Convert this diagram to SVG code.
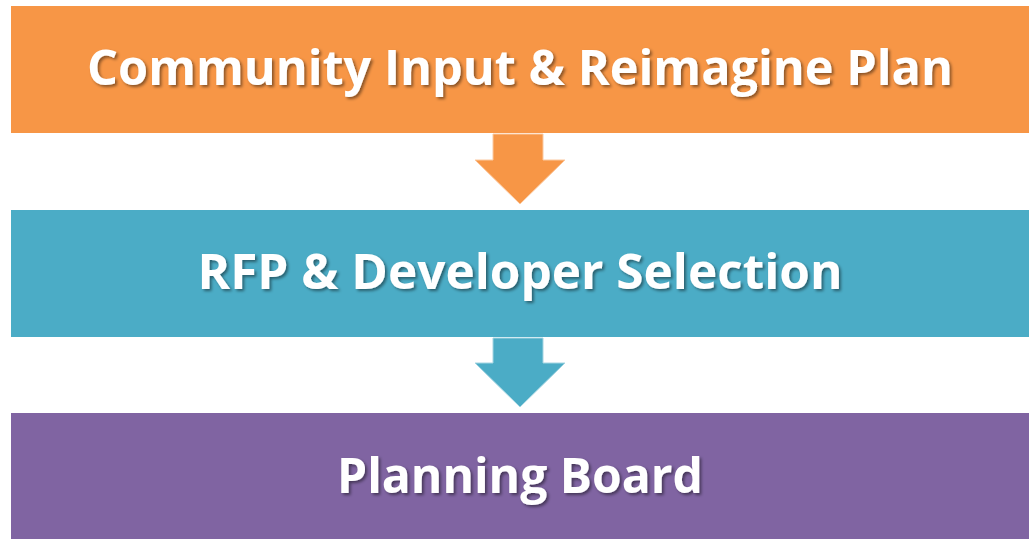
<svg xmlns="http://www.w3.org/2000/svg" width="1030" height="539" viewBox="0 0 1030 539">
<defs>
<filter id="sh" x="-5%" y="-20%" width="110%" height="150%">
<feDropShadow dx="2" dy="2" stdDeviation="1.5" flood-color="#000" flood-opacity="0.45"/>
</filter>
</defs>
<style>
.lbl{font-family:"Open Sans","Liberation Sans",sans-serif;font-weight:bold;font-size:49px;fill:#fff;text-anchor:middle;filter:url(#sh)}
</style>
<rect width="1030" height="539" fill="#fff"/>
<g id="connectors">
<polygon points="493,134 543,134 543,160 565,160 520,204 475,160 493,160" fill="#F79646" stroke="#FBC9A0" stroke-width="1"/>
<polygon points="493,338 543,338 543,363 565,363 520,407 475,363 493,363" fill="#4BACC6" stroke="#A5D5E2" stroke-width="1"/>
</g>
<g id="node1">
<rect x="11" y="6" width="1018" height="127" fill="#F79646"/>
<text class="lbl" x="520" y="85" textLength="866" lengthAdjust="spacingAndGlyphs">Community Input &amp; Reimagine Plan</text>
</g>
<g id="node2">
<rect x="11" y="210" width="1018" height="127" fill="#4BACC6"/>
<text class="lbl" x="520" y="289" textLength="645" lengthAdjust="spacingAndGlyphs">RFP &amp; Developer Selection</text>
</g>
<g id="node3">
<rect x="11" y="413" width="1018" height="130" fill="#8064A2"/>
<text class="lbl" x="520" y="493" textLength="366" lengthAdjust="spacingAndGlyphs">Planning Board</text>
</g>
</svg>
